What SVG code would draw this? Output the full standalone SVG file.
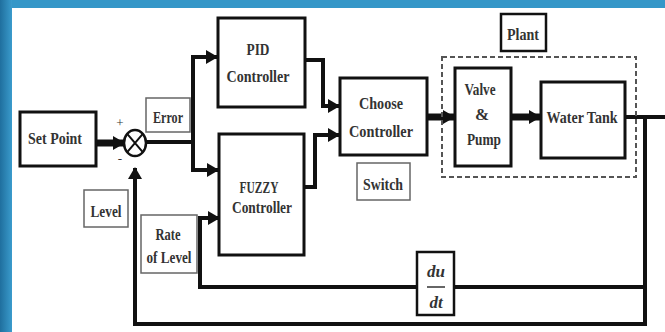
<svg xmlns="http://www.w3.org/2000/svg" width="665" height="332" viewBox="0 0 665 332">
<style>
.t{font-family:"Liberation Serif","Times New Roman",serif;font-weight:bold;font-size:17px;fill:#333;text-anchor:middle}
.i{font-style:italic}
.box{fill:#fff;stroke:#111;stroke-width:3}
.lbl{fill:#fff;stroke:#666;stroke-width:1.5}
.c{fill:none;stroke:#111;stroke-width:4}
.ct{fill:none;stroke:#111;stroke-width:7}
</style>
<defs>
<marker id="ah" markerUnits="userSpaceOnUse" markerWidth="12" markerHeight="14" refX="11" refY="7" orient="auto">
<path d="M0,0 L12,7 L0,14 Z" fill="#111"/>
</marker>
<linearGradient id="bl" x1="0" y1="0" x2="1" y2="0">
<stop offset="0" stop-color="#1f6f9e"/>
<stop offset="1" stop-color="#3a9bcc"/>
</linearGradient>
</defs>
<rect x="0" y="0" width="665" height="332" fill="#fff"/>
<rect x="0" y="0" width="665" height="8" fill="#3597c8"/>
<rect x="0" y="0" width="12" height="332" fill="url(#bl)"/>

<g id="connectors">
<path class="ct" d="M97,143 H124" marker-end="url(#ah)"/>
<path class="c" d="M146,142 H193"/>
<path class="c" d="M193,57 V170"/>
<path class="c" d="M191,57 H217" marker-end="url(#ah)"/>
<path class="c" d="M191,170 H218" marker-end="url(#ah)"/>
<path class="c" d="M305,60 H323 V106 H339" marker-end="url(#ah)"/>
<path class="c" d="M304,187 H315 V135 H339" marker-end="url(#ah)"/>
<path class="ct" d="M427,117 H454" marker-end="url(#ah)"/>
<path class="ct" d="M511,117 H540" marker-end="url(#ah)"/>
<path class="c" d="M625,117 H665"/>
<path class="c" d="M645,117 V324 H135 V168" marker-end="url(#ah)"/>
<path class="c" d="M645,287 H454"/>
<path class="c" d="M416,287 H200 V218 H219" marker-end="url(#ah)"/>
</g>

<g id="setpoint">
<rect class="box" x="20" y="112" width="76" height="54"/>
<text class="t" x="55" y="144" textLength="54" lengthAdjust="spacingAndGlyphs">Set Point</text>
</g>

<g id="sum">
<ellipse cx="135" cy="143" rx="11" ry="13" fill="#fff" stroke="#111" stroke-width="2.5"/>
<path d="M127.2,133.8 L142.8,152.2 M142.8,133.8 L127.2,152.2" stroke="#111" stroke-width="2" fill="none"/>
<text class="t" x="120" y="127" style="font-size:13px;font-weight:normal">+</text>
<text class="t" x="120" y="163" style="font-size:13px;font-weight:normal">-</text>
</g>

<g id="error">
<rect class="lbl" x="146" y="98" width="44" height="34"/>
<text class="t" x="168" y="123" textLength="30" lengthAdjust="spacingAndGlyphs">Error</text>
</g>

<g id="level">
<rect class="lbl" x="84" y="190" width="44" height="37"/>
<text class="t" x="106" y="217" textLength="31" lengthAdjust="spacingAndGlyphs">Level</text>
</g>

<g id="pid">
<rect class="box" x="218" y="18" width="87" height="89"/>
<text class="t" x="258" y="55" textLength="23" lengthAdjust="spacingAndGlyphs">PID</text>
<text class="t" x="258" y="82" textLength="63" lengthAdjust="spacingAndGlyphs">Controller</text>
</g>

<g id="fuzzy">
<rect class="box" x="219" y="134" width="85" height="121"/>
<text class="t" x="259" y="193" textLength="39" lengthAdjust="spacingAndGlyphs">FUZZY</text>
<text class="t" x="262" y="213" textLength="60" lengthAdjust="spacingAndGlyphs">Controller</text>
</g>

<g id="rate">
<rect class="lbl" x="141" y="215" width="56" height="58"/>
<text class="t" x="168" y="240" textLength="25" lengthAdjust="spacingAndGlyphs">Rate</text>
<text class="t" x="169" y="263" textLength="45" lengthAdjust="spacingAndGlyphs">of Level</text>
</g>

<g id="choose">
<rect class="box" x="340" y="78" width="87" height="77"/>
<text class="t" x="381" y="109" textLength="44" lengthAdjust="spacingAndGlyphs">Choose</text>
<text class="t" x="381" y="137" textLength="64" lengthAdjust="spacingAndGlyphs">Controller</text>
</g>

<g id="switch">
<rect class="lbl" x="357" y="163" width="53" height="37"/>
<text class="t" x="383" y="190" textLength="40" lengthAdjust="spacingAndGlyphs">Switch</text>
</g>

<g id="plant">
<rect x="442" y="57" width="194" height="120" fill="none" stroke="#555" stroke-width="2" stroke-dasharray="5,3"/>
<rect x="501" y="14" width="45" height="37" fill="#fff" stroke="#111" stroke-width="2.5"/>
<text class="t" x="523" y="40" textLength="32" lengthAdjust="spacingAndGlyphs">Plant</text>
</g>

<g id="valve">
<rect class="box" x="455" y="68" width="56" height="98"/>
<text class="t" x="480" y="95" textLength="31" lengthAdjust="spacingAndGlyphs">Valve</text>
<text class="t" x="482" y="120">&amp;</text>
<text class="t" x="484" y="145" textLength="34" lengthAdjust="spacingAndGlyphs">Pump</text>
</g>

<g id="tank">
<rect class="box" x="541" y="82" width="84" height="76"/>
<text class="t" x="582" y="123" textLength="71" lengthAdjust="spacingAndGlyphs">Water Tank</text>
</g>

<g id="deriv">
<rect x="417" y="252" width="37" height="63" fill="#fff" stroke="#111" stroke-width="2.5"/>
<text class="t i" x="436" y="277">du</text>
<line x1="427" y1="287" x2="445" y2="287" stroke="#333" stroke-width="1.5"/>
<text class="t i" x="436" y="308">dt</text>
</g>
</svg>
